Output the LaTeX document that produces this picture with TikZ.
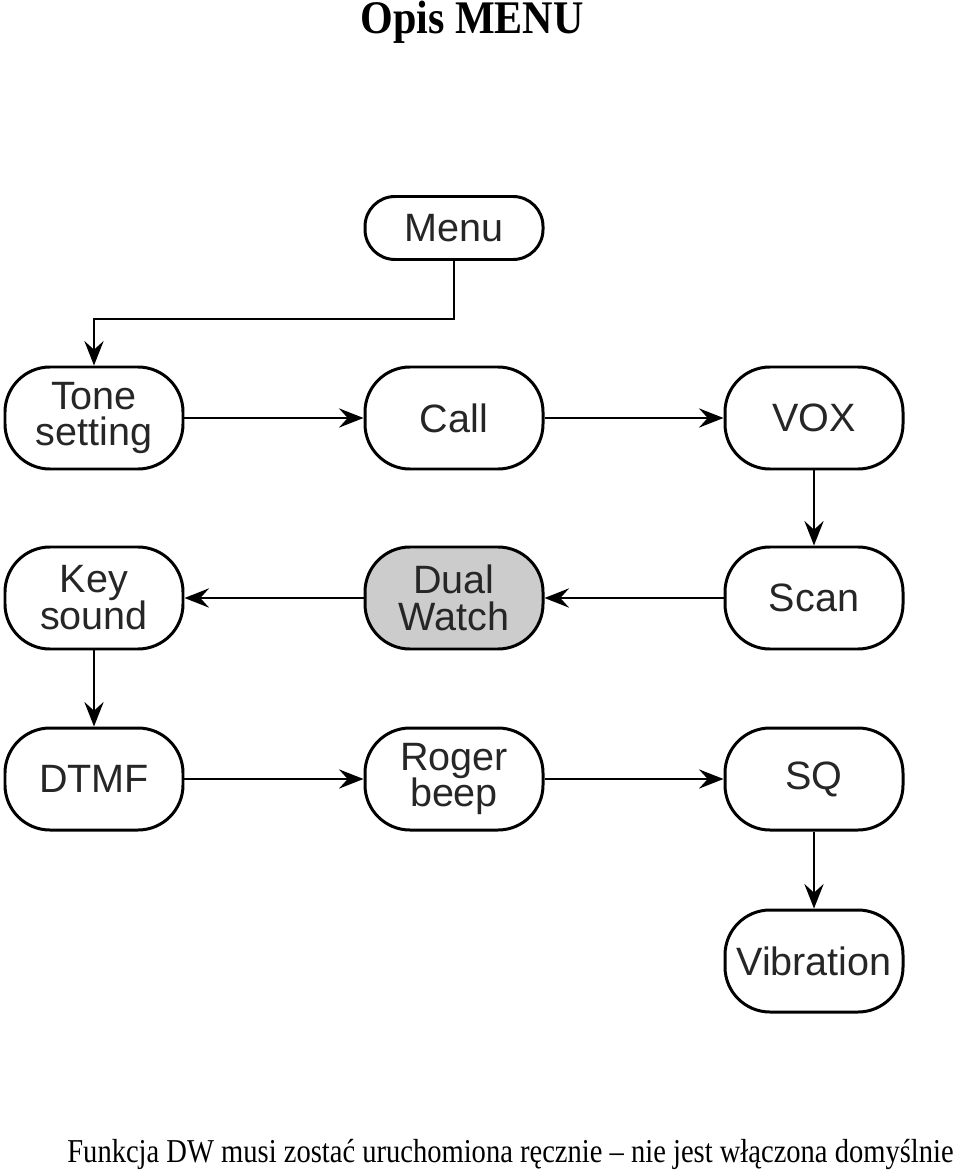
\documentclass[tikz,border=0pt]{standalone}
\usepackage{fontspec}
\setmainfont{Liberation Serif}
\newfontfamily\boxfont{Liberation Sans}
\usepackage{tikz}
\usetikzlibrary{arrows.meta,positioning}

\tikzset{
	menubox/.style={draw, line width=1.7pt, rounded corners=0.9cm, minimum width=3.56cm, minimum height=2.04cm, align=center, font=\boxfont\fontsize{22.5}{21}\selectfont, text=black!85, inner sep=2pt},
	link/.style={line width=0.8pt, -{Stealth[length=14pt, width=11pt, inset=5pt]}}
}

\begin{document}
\begin{tikzpicture}
	\useasboundingbox (0,0) rectangle (19.2,-23.42);
	%heading
	\node (title)[anchor=base, font=\bfseries\fontsize{26.6}{30}\selectfont, xscale=0.9, transform shape] at (9.44,-0.68) {Opis MENU};
	
	%nodes
	\node (tone)[menubox] at (1.88,-8.36)                       {Tone\\setting};
	\node (call)[menubox, right of=tone, node distance=7.2cm]    {Call};
	\node (vox)[menubox, right of=call, node distance=7.2cm]     {VOX};
	\node (menu)[menubox, minimum height=1.26cm, rounded corners=0.6cm, above of=call, node distance=3.8cm] {Menu};
	
	\node (scan)[menubox, below of=vox, node distance=3.6cm]     {Scan};
	\node (dual)[menubox, fill=black!20, left of=scan, node distance=7.2cm] {Dual\\Watch};
	\node (key)[menubox, left of=dual, node distance=7.2cm]      {Key\\sound};
	
	\node (dtmf)[menubox, below of=key, node distance=3.62cm]    {DTMF};
	\node (roger)[menubox, right of=dtmf, node distance=7.2cm]   {Roger\\beep};
	\node (sq)[menubox, right of=roger, node distance=7.2cm]     {SQ};
	\node (vib)[menubox, below of=sq, node distance=3.64cm]      {Vibration};
	
	%links
	\draw[link] (menu.south) -- ++(0,-1.16) -| (tone.north);
	\draw[link] (tone) to (call);
	\draw[link] (call) to (vox);
	\draw[link] (vox) to (scan);
	\draw[link] (scan) to (dual);
	\draw[link] (dual) to (key);
	\draw[link] (key) to (dtmf);
	\draw[link] (dtmf) to (roger);
	\draw[link] (roger) to (sq);
	\draw[link] (sq) to (vib);
	
	%footnote
	\node (note)[anchor=base, font=\fontsize{19}{22}\selectfont, xscale=0.855, transform shape] at (10.21,-23.24) {Funkcja DW musi zostać uruchomiona ręcznie – nie jest włączona domyślnie};
\end{tikzpicture}
\end{document}
